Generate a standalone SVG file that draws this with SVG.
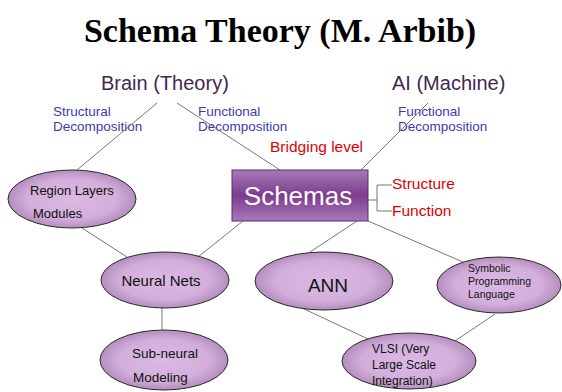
<svg xmlns="http://www.w3.org/2000/svg" width="562" height="392" viewBox="0 0 562 392">
<defs>
<radialGradient id="eg" cx="50%" cy="50%" r="50%">
<stop offset="0" stop-color="#dbb9e3"/>
<stop offset="0.7" stop-color="#d3aedb"/>
<stop offset="1" stop-color="#b48ebd"/>
</radialGradient>
<linearGradient id="bg" x1="0" y1="0" x2="0" y2="1">
<stop offset="0" stop-color="#a67ab6"/>
<stop offset="0.5" stop-color="#7d3c90"/>
<stop offset="1" stop-color="#a67ab6"/>
</linearGradient>
<style>
.e{fill:url(#eg);stroke:#2a2a2a;stroke-width:1}
.t{font-family:"Liberation Sans",Arial,sans-serif;fill:#111}
.c line,.c path{stroke:#777;stroke-width:1;fill:none}
.blue{font-family:"Liberation Sans",Arial,sans-serif;font-size:13.5px;fill:#3b3bb3}
.red{font-family:"Liberation Sans",Arial,sans-serif;font-size:15.5px;fill:#e00000}
.head{font-family:"Liberation Sans",Arial,sans-serif;font-size:20px;fill:#3f2850}
</style>
</defs>
<rect width="562" height="392" fill="#fff"/>
<text x="280" y="42" text-anchor="middle" font-family="'Liberation Serif','Times New Roman',serif" font-weight="bold" font-size="34" fill="#000">Schema Theory (M. Arbib)</text>

<g id="labels">
<text class="head" x="101" y="90">Brain (Theory)</text>
<text class="head" x="392" y="90">AI (Machine)</text>
<text class="blue" x="53" y="116">Structural</text>
<text class="blue" x="53" y="131">Decomposition</text>
<text class="blue" x="198" y="116">Functional</text>
<text class="blue" x="198" y="131">Decomposition</text>
<text class="blue" x="398" y="116">Functional</text>
<text class="blue" x="398" y="131">Decomposition</text>
<text class="red" x="270" y="152">Bridging level</text>
<text class="red" x="392" y="189">Structure</text>
<text class="red" x="392" y="216">Function</text>
</g>

<g class="c" id="connectors">
<line x1="157" y1="103" x2="77" y2="170"/>
<line x1="177" y1="103" x2="280" y2="170"/>
<line x1="428" y1="103" x2="361" y2="170"/>
<path d="M368 200H377M377 185V211M377 185H392M377 211H392"/>
<line x1="82" y1="228" x2="127" y2="257"/>
<line x1="243" y1="221" x2="198" y2="257"/>
<line x1="357" y1="221" x2="310" y2="252"/>
<line x1="368" y1="221" x2="463" y2="262"/>
<line x1="302" y1="308" x2="368" y2="339"/>
<line x1="495" y1="314" x2="452" y2="343"/>
<line x1="162" y1="308" x2="162" y2="330"/>
</g>

<g id="schemas">
<rect x="232" y="170" width="136" height="51" fill="url(#bg)" stroke="#5b2c6b" stroke-width="1"/>
<text x="298" y="205" text-anchor="middle" font-family="'Liberation Sans',Arial,sans-serif" font-size="26" fill="#fff">Schemas</text>
</g>

<g id="region">
<ellipse class="e" cx="72" cy="199" rx="64" ry="29"/>
<text class="t" x="30" y="195" font-size="13">Region Layers</text>
<text class="t" x="33" y="218" font-size="13">Modules</text>
</g>

<g id="neural">
<ellipse class="e" cx="165" cy="280" rx="64" ry="28"/>
<text class="t" x="161" y="286" font-size="15" text-anchor="middle">Neural Nets</text>
</g>

<g id="ann">
<ellipse class="e" cx="324" cy="281" rx="69" ry="29"/>
<text class="t" x="328" y="292" font-size="19" text-anchor="middle">ANN</text>
</g>

<g id="symbolic">
<ellipse class="e" cx="499" cy="285" rx="62" ry="28"/>
<text class="t" x="468" y="272" font-size="10.5">Symbolic</text>
<text class="t" x="468" y="285" font-size="10.5">Programming</text>
<text class="t" x="468" y="298" font-size="10.5">Language</text>
</g>

<g id="vlsi">
<ellipse class="e" cx="409" cy="361" rx="67" ry="28"/>
<text class="t" x="372" y="353" font-size="12">VLSI (Very</text>
<text class="t" x="372" y="369" font-size="12">Large Scale</text>
<text class="t" x="372" y="385" font-size="12">Integration)</text>
</g>

<g id="subneural">
<ellipse class="e" cx="164" cy="360" rx="64" ry="30"/>
<text class="t" x="132" y="358" font-size="13.5">Sub-neural</text>
<text class="t" x="133" y="382" font-size="13.5">Modeling</text>
</g>
</svg>
